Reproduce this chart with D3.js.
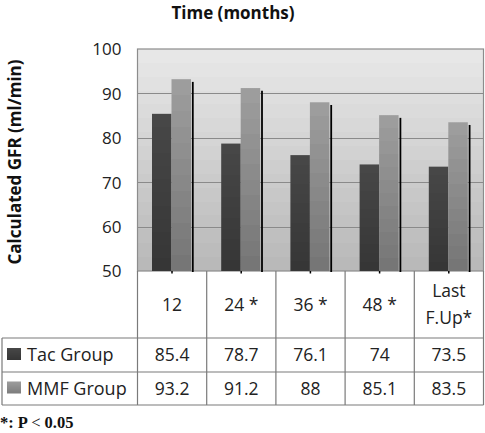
<!DOCTYPE html>
<html><head><meta charset="utf-8">
<script src="https://cdn.jsdelivr.net/npm/d3@7"></script>
<style>body{margin:0;background:#fff;} svg{display:block;}</style>
</head><body>
<svg id="c" width="485" height="433"></svg>
<script>
const categories = ["12", "24 *", "36 *", "48 *", "Last\nF.Up*"];
const seriesNames = ["Tac Group", "MMF Group"];
const tacValues = [85.4, 78.7, 76.1, 74, 73.5];
const mmfValues = [93.2, 91.2, 88, 85.1, 83.5];
const yTicks = [50, 60, 70, 80, 90, 100];

const svg = d3.select("#c");
const L = 137.5, R = 483.5, T = 49, B = 271;
const font = "'Open Sans', sans-serif";

const x = d3.scaleBand().domain(categories).range([L, R]).paddingInner(0).paddingOuter(0);
const y = d3.scaleLinear().domain([50, 100]).range([B, T]);

const defs = svg.append("defs");
const bg = defs.append("linearGradient").attr("id", "bg").attr("x1", 0).attr("y1", 0).attr("x2", 0).attr("y2", 1);
const nb = 16;
for (let i = 0; i < nb; i++) {
  const c = d3.interpolateRgb("#e7e7e7", "#b9b9b9")(i / (nb - 1));
  bg.append("stop").attr("offset", i / nb).attr("stop-color", c);
  bg.append("stop").attr("offset", (i + 1) / nb).attr("stop-color", c);
}
function barGrad(id, c1, c2) {
  const g = defs.append("linearGradient").attr("id", id).attr("x1", 0).attr("y1", 0).attr("x2", 0).attr("y2", 1);
  const n = 12;
  for (let i = 0; i < n; i++) {
    const c = d3.interpolateRgb(c1, c2)(i / (n - 1));
    g.append("stop").attr("offset", i / n).attr("stop-color", c);
    g.append("stop").attr("offset", (i + 1) / n).attr("stop-color", c);
  }
}
barGrad("tac", "#474747", "#363636");
barGrad("mmf", "#9d9d9d", "#767676");
barGrad("lmmf", "#9a9a9a", "#7c7c7c");

svg.append("rect").attr("x", L).attr("y", T).attr("width", R - L).attr("height", B - T).attr("fill", "url(#bg)");

svg.append("g").selectAll("line").data(yTicks.filter(d => d > 50 && d < 100)).join("line")
  .attr("x1", L).attr("x2", R).attr("y1", d => Math.round(y(d)) + 0.5).attr("y2", d => Math.round(y(d)) + 0.5)
  .attr("stroke", "#8a8a8a").attr("stroke-width", 1.2);

svg.append("rect").attr("x", L).attr("y", T).attr("width", R - L).attr("height", B - T)
  .attr("fill", "none").attr("stroke", "#8c8c8c").attr("stroke-width", 1.2);

const bw = 19.5;
const off = 14.5;
const bars = svg.append("g");
categories.forEach((c, i) => {
  const x0 = x(c) + off;
  bars.append("rect").attr("x", x0).attr("y", y(tacValues[i])).attr("width", bw).attr("height", y(50) - y(tacValues[i])).attr("fill", "url(#tac)");
  bars.append("rect").attr("x", x0 + bw).attr("y", y(mmfValues[i])).attr("width", bw).attr("height", y(50) - y(mmfValues[i])).attr("fill", "url(#mmf)");
  bars.append("line").attr("x1", x0 + 2 * bw + 1.8).attr("x2", x0 + 2 * bw + 1.8)
    .attr("y1", y(mmfValues[i]) + 2.7).attr("y2", B + 1)
    .attr("stroke", "#000").attr("stroke-width", 1.8);
  bars.append("line").attr("x1", x0 + bw + 0.5).attr("x2", x0 + bw + 0.5)
    .attr("y1", B).attr("y2", B + 2.5).attr("stroke", "#000").attr("stroke-width", 1.5);
});

const yAxis = d3.axisLeft(y).tickValues(yTicks).tickSize(0).tickPadding(0);
const ga = svg.append("g").attr("transform", `translate(${L - 16},0)`).call(yAxis);
ga.select(".domain").remove();
ga.selectAll("text").attr("font-family", font).attr("font-size", 17).attr("fill", "#222").attr("dy", "0.35em");

svg.append("text").attr("x", 233).attr("y", 19).attr("text-anchor", "middle")
  .attr("font-family", font).attr("font-weight", "bold").attr("font-size", 17).attr("fill", "#111").text("Time (months)");
svg.append("text").attr("transform", "translate(21,162) rotate(-90)").attr("text-anchor", "middle")
  .attr("font-family", font).attr("font-weight", "bold").attr("font-size", 17).attr("fill", "#111").text("Calculated GFR (ml/min)");

const tbl = svg.append("g");
const rowTop = B, r1 = 338, r2 = 372, r3 = 405, tl = 2;
const lc = "#7a7a7a";
function ln(x1, y1, x2, y2) { tbl.append("line").attr("x1", x1).attr("y1", y1).attr("x2", x2).attr("y2", y2).attr("stroke", lc).attr("stroke-width", 1.2); }
ln(L, rowTop, L, r3);
categories.forEach(c => ln(x(c) + x.bandwidth(), rowTop, x(c) + x.bandwidth(), r3));
ln(tl, r1, R, r1); ln(tl, r2, R, r2); ln(tl, r3, R, r3); ln(tl, r1, tl, r3);

const fs = 17.5;
categories.forEach(c => {
  const lines = c.split("\n");
  const cx = x(c) + x.bandwidth() / 2;
  lines.forEach((t, j) => {
    tbl.append("text").attr("x", cx).attr("y", (rowTop + r1) / 2 + (j - (lines.length - 1) / 2) * 27).attr("dy", "0.35em")
      .attr("text-anchor", "middle").attr("font-family", font).attr("font-size", fs).attr("fill", "#222").text(t);
  });
});
const rows = [[tacValues, "url(#tac)", (r1 + r2) / 2], [mmfValues, "url(#lmmf)", (r2 + r3) / 2]];
rows.forEach(([vals, col, cy], k) => {
  tbl.append("rect").attr("x", 7).attr("y", cy - 7).attr("width", 14).attr("height", 12).attr("fill", col);
  tbl.append("text").attr("x", 27).attr("y", cy).attr("dy", "0.35em").attr("font-family", font).attr("font-size", 18).attr("fill", "#222").text(seriesNames[k]);
  categories.forEach((c, i) => {
    tbl.append("text").attr("x", x(c) + x.bandwidth() / 2).attr("y", cy).attr("dy", "0.35em").attr("text-anchor", "middle")
      .attr("font-family", font).attr("font-size", fs).attr("fill", "#222").text(vals[i]);
  });
});

const fn = svg.append("text").attr("x", 0).attr("y", 428).attr("font-family", "'Liberation Serif', serif").attr("font-weight", "bold").attr("font-size", 16.5).attr("fill", "#111");
fn.append("tspan").text("*: P ");
fn.append("tspan").attr("font-weight", "normal").text("<");
fn.append("tspan").text(" 0.05");
</script>
</body></html>
